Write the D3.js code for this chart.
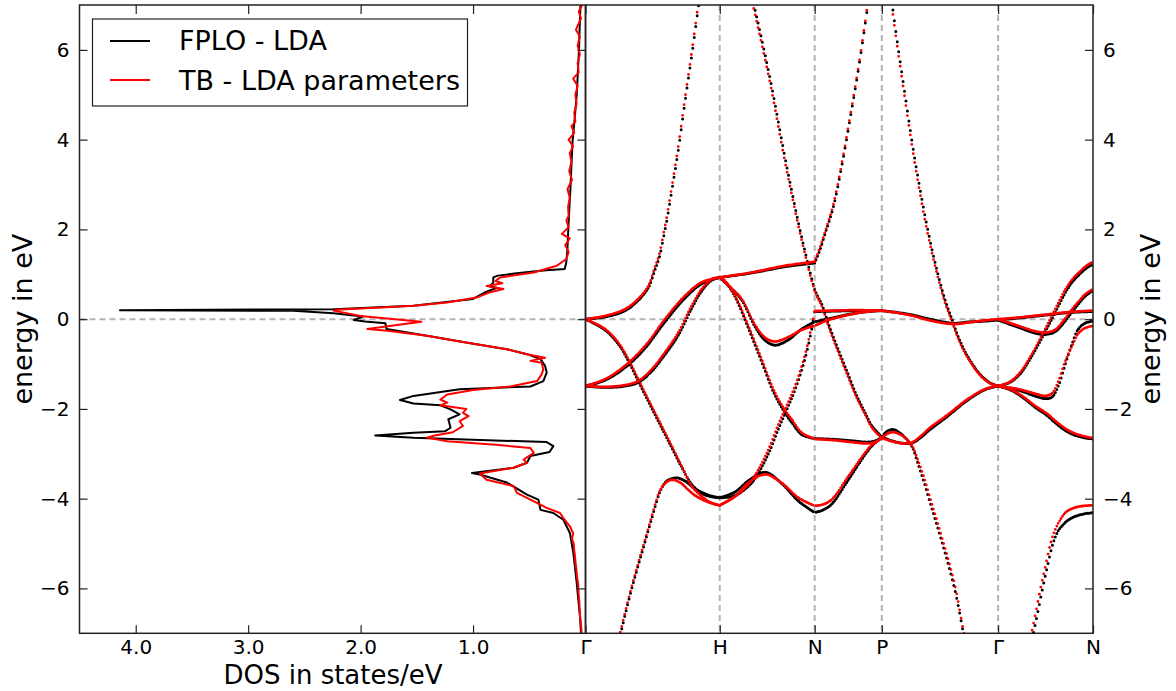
<!DOCTYPE html>
<html>
<head>
<meta charset="utf-8">
<script src="https://cdn.jsdelivr.net/npm/d3@7"></script>
<style>
  body { margin: 0; background: #fff; }
  text { font-family: "DejaVu Sans", sans-serif; }
</style>
</head>
<body>
<svg id="chart" width="1176" height="691"></svg>
<script>
// ---------- axis ticks and labels ----------
const energyTicks = [-6, -4, -2, 0, 2, 4, 6];
const dosTicks = [4, 3, 2, 1];
const kPoints = [0, 1, 1.7071, 2.2071, 3.0731, 3.7802];
const kLabels = ["Γ", "H", "N", "P", "Γ", "N"];
const seriesNames = ["FPLO - LDA", "TB - LDA parameters"];

// ---------- density of states: [energy eV, states/eV] ----------
const dosFPLO = [
  [7.0,0.045],[6.5,0.052],[6.0,0.058],[5.5,0.068],[5.0,0.078],[4.5,0.095],[4.0,0.114],
  [3.5,0.124],[3.0,0.132],[2.5,0.143],[2.0,0.153],[1.5,0.162],[1.25,0.172],[1.12,0.185],
  [1.09,0.35],[1.04,0.55],[0.97,0.78],[0.93,0.82],[0.82,0.82],[0.73,0.85],[0.70,0.79],
  [0.60,0.89],[0.45,1.0],[0.30,1.53],[0.22,2.24],[0.20,4.14],[0.185,2.6],[0.13,2.24],
  [0.06,1.98],[-0.02,2.06],[-0.05,1.96],[-0.09,1.78],[-0.22,1.77],[-0.37,1.41],[-0.56,0.97],
  [-0.67,0.70],[-0.78,0.52],[-0.89,0.40],[-1.04,0.36],[-1.19,0.345],[-1.38,0.375],[-1.50,0.49],
  [-1.56,1.12],[-1.71,1.53],[-1.80,1.65],[-1.88,1.53],[-1.92,1.29],[-2.01,1.20],[-2.12,1.12],
  [-2.23,1.22],[-2.42,1.20],[-2.50,1.25],[-2.53,1.53],[-2.59,1.87],[-2.64,1.53],[-2.74,0.345],
  [-2.83,0.286],[-2.96,0.32],[-3.05,0.49],[-3.20,0.52],[-3.31,0.64],[-3.43,1.01],[-3.46,0.94],
  [-3.64,0.70],[-3.91,0.52],[-4.02,0.42],[-4.25,0.40],[-4.32,0.286],[-4.47,0.197],[-4.77,0.138],
  [-5.21,0.108],[-5.88,0.078],[-6.63,0.049],[-7.0,0.04]
];
const dosTB = [
  [7.0,0.03],[6.85,0.06],[6.7,0.04],[6.45,0.085],[6.3,0.05],[6.1,0.07],[5.9,0.05],[5.7,0.07],
  [5.5,0.06],[5.36,0.11],[5.2,0.07],[5.0,0.09],[4.8,0.08],[4.6,0.10],[4.4,0.09],[4.3,0.125],
  [4.15,0.10],[4.0,0.15],[3.85,0.11],[3.7,0.14],[3.5,0.125],[3.3,0.145],[3.1,0.12],[2.9,0.16],
  [2.7,0.14],[2.5,0.155],[2.3,0.15],[2.2,0.17],[2.05,0.15],[1.9,0.21],[1.8,0.14],[1.65,0.18],
  [1.5,0.15],[1.34,0.17],[1.19,0.256],[1.04,0.46],[0.93,0.76],[0.85,0.80],[0.80,0.74],
  [0.74,0.88],[0.67,0.73],[0.60,0.85],[0.48,0.97],[0.37,1.23],[0.30,1.53],[0.21,2.21],
  [0.19,2.24],[0.07,2.0],[-0.06,1.46],[-0.22,1.94],[-0.26,1.76],[-0.37,1.41],[-0.50,1.12],
  [-0.56,0.97],[-0.67,0.70],[-0.78,0.52],[-0.86,0.36],[-0.93,0.49],[-0.97,0.39],[-1.12,0.375],
  [-1.23,0.39],[-1.38,0.43],[-1.50,0.67],[-1.58,1.0],[-1.68,1.23],[-1.79,1.29],[-1.86,1.23],
  [-1.92,1.29],[-2.0,1.06],[-2.09,1.09],[-2.16,1.04],[-2.27,1.12],[-2.38,1.09],[-2.52,1.18],
  [-2.60,1.35],[-2.64,1.41],[-2.72,1.23],[-2.80,0.80],[-2.87,0.49],[-2.98,0.46],[-3.13,0.55],
  [-3.20,0.52],[-3.31,0.64],[-3.44,0.94],[-3.58,0.88],[-3.72,0.64],[-3.87,0.61],[-4.02,0.49],
  [-4.2,0.35],[-4.32,0.227],[-4.42,0.20],[-4.55,0.16],[-4.62,0.138],[-4.77,0.11],[-4.9,0.12],
  [-5.0,0.105],[-5.15,0.10],[-5.29,0.093],[-5.45,0.088],[-5.6,0.08],[-5.75,0.075],[-5.9,0.065],
  [-6.1,0.062],[-6.3,0.055],[-6.45,0.052],[-6.6,0.049],[-6.8,0.04],[-7.0,0.034]
];

// ---------- band structure: [k along path, energy eV] ----------
// FPLO - LDA
const fGH_up = [[0,0],[0.145,0.05],[0.294,0.19],[0.393,0.42],[0.468,0.70],[0.515,1.08],[0.550,1.38],[0.585,1.88],[0.607,2.22],[0.654,3.07],[0.694,3.82],[0.734,4.69],[0.781,5.66],[0.803,6.12],[0.836,6.85],[0.868,7.5]];
const fGH_down = [[0,0],[0.145,-0.24],[0.244,-0.55],[0.319,-0.93],[0.393,-1.38],[0.468,-1.83],[0.542,-2.27],[0.617,-2.71],[0.717,-3.30],[0.791,-3.68],[0.866,-3.88],[0.927,-3.95],[1.0,-3.98]];
const fGH_s = [[0.25,-7.15],[0.298,-6.55],[0.348,-5.96],[0.397,-5.44],[0.447,-4.92],[0.497,-4.40],[0.528,-4.08],[0.558,-3.82],[0.600,-3.62],[0.647,-3.55],[0.691,-3.54],[0.749,-3.62],[0.816,-3.78],[0.915,-3.92],[1.0,-3.98]];
const fGH_a = [[0,-1.49],[0.145,-1.36],[0.294,-1.08],[0.443,-0.65],[0.592,-0.06],[0.741,0.47],[0.866,0.79],[1.0,0.93]];
const fGH_b = [[0,-1.49],[0.145,-1.52],[0.294,-1.49],[0.393,-1.41],[0.493,-1.16],[0.592,-0.79],[0.691,-0.36],[0.791,0.24],[0.866,0.63],[0.940,0.87],[1.0,0.93]];
const fHN_top = [[1.0,0.93],[1.238,1.03],[1.486,1.17],[1.7071,1.25]];
const fHN_dip = [[1.0,0.93],[1.076,0.71],[1.163,0.43],[1.263,-0.17],[1.337,-0.47],[1.412,-0.58],[1.511,-0.46],[1.610,-0.22],[1.7071,-0.06]];
const fHN_fall = [[1.0,0.93],[1.04,0.84],[1.114,0.50],[1.213,-0.20],[1.312,-0.95],[1.412,-1.70],[1.511,-2.20],[1.536,-2.30],[1.610,-2.57],[1.7071,-2.66]];
const fHN_rise = [[1.0,-3.98],[1.114,-3.93],[1.213,-3.72],[1.263,-3.55],[1.362,-3.00],[1.436,-2.45],[1.508,-1.95],[1.561,-1.57],[1.635,-0.88],[1.685,-0.22],[1.7071,0.17]];
const fHN_hump = [[1.0,-3.98],[1.114,-3.85],[1.213,-3.60],[1.337,-3.41],[1.461,-3.66],[1.585,-4.05],[1.7071,-4.31]];
const fHN_steep = [[1.228,7.4],[1.240,7.2],[1.285,6.6],[1.337,5.9],[1.389,5.15],[1.436,4.4],[1.486,3.6],[1.536,2.86],[1.585,2.16],[1.635,1.51],[1.685,0.9],[1.7071,0.66]];
const fNP_up = [[1.7071,1.25],[1.747,1.55],[1.784,1.9],[1.846,2.5],[1.908,3.4],[1.970,4.45],[2.032,5.55],[2.082,6.55],[2.119,7.35]];
const fNP_fall = [[1.7071,0.66],[1.734,0.48],[1.759,0.34],[1.809,-0.10],[1.883,-0.68],[1.958,-1.24],[2.015,-1.67],[2.082,-2.08],[2.134,-2.38],[2.2071,-2.62]];
const fNP_flat = [[1.7071,0.17],[1.85,0.18],[2.0,0.19],[2.2071,0.19]];
const fNP_rise0 = [[1.7071,-0.06],[1.858,0.04],[1.983,0.12],[2.104,0.17],[2.2071,0.19]];
const fNP_low = [[1.7071,-2.66],[1.858,-2.68],[1.983,-2.71],[2.104,-2.74],[2.16,-2.71],[2.2071,-2.63]];
const fNP_rise4 = [[1.7071,-4.31],[1.77,-4.25],[1.834,-4.12],[1.958,-3.58],[2.082,-3.02],[2.134,-2.82],[2.2071,-2.63]];
const fPG_steep = [[2.267,7.4],[2.305,6.55],[2.343,5.75],[2.380,5.0],[2.417,4.25],[2.454,3.55],[2.492,2.9],[2.529,2.3],[2.579,1.58],[2.628,0.97],[2.678,0.43],[2.732,-0.02],[2.775,-0.38],[2.839,-0.79],[2.939,-1.23],[3.013,-1.42],[3.0731,-1.49]];
const fPG_flat = [[2.2071,0.19],[2.343,0.14],[2.442,0.09],[2.566,0.0],[2.740,-0.09],[2.864,-0.06],[2.939,-0.05],[3.0731,-0.02]];
const fPG_hump = [[2.2071,-2.63],[2.244,-2.50],[2.293,-2.46],[2.343,-2.54],[2.387,-2.66],[2.432,-2.84],[2.477,-3.22],[2.529,-3.70],[2.566,-4.08],[2.611,-4.52],[2.663,-5.05],[2.715,-5.6],[2.760,-6.15],[2.812,-6.95],[2.834,-7.3]];
const fPG_cap = [[2.2071,-2.63],[2.305,-2.73],[2.380,-2.77],[2.432,-2.76],[2.492,-2.65],[2.566,-2.46],[2.690,-2.18],[2.839,-1.82],[2.976,-1.57],[3.0731,-1.49]];
const fGN_up = [[3.0731,-1.49],[3.160,-1.41],[3.237,-1.22],[3.311,-0.89],[3.410,-0.36],[3.473,0.0],[3.520,0.28],[3.572,0.58],[3.624,0.82],[3.683,1.01],[3.736,1.15],[3.7802,1.22]];
const fGN_cap = [[3.0731,-1.49],[3.160,-1.57],[3.237,-1.70],[3.348,-1.96],[3.435,-2.14],[3.520,-2.36],[3.609,-2.54],[3.698,-2.63],[3.7802,-2.67]];
const fGN_low = [[3.0731,-1.49],[3.224,-1.58],[3.348,-1.71],[3.423,-1.77],[3.473,-1.74],[3.520,-1.50],[3.572,-1.02],[3.624,-0.55],[3.671,-0.22],[3.721,-0.09],[3.7802,-0.04]];
const fGN_flat = [[3.0731,-0.02],[3.237,0.03],[3.423,0.09],[3.609,0.15],[3.7802,0.17]];
const fGN_dip = [[3.0731,-0.02],[3.224,-0.18],[3.348,-0.31],[3.423,-0.34],[3.497,-0.28],[3.557,-0.10],[3.624,0.16],[3.669,0.33],[3.721,0.51],[3.7802,0.64]];
const fGN_s = [[3.326,-7.2],[3.333,-7.05],[3.371,-6.5],[3.408,-5.95],[3.445,-5.45],[3.482,-5.0],[3.520,-4.72],[3.557,-4.58],[3.609,-4.45],[3.683,-4.36],[3.7802,-4.31]];

// TB - LDA parameters
const tGH_up = [[0,0],[0.145,0.07],[0.294,0.22],[0.393,0.45],[0.468,0.74],[0.515,1.14],[0.550,1.45],[0.585,1.96],[0.607,2.30],[0.654,3.15],[0.694,3.90],[0.734,4.77],[0.781,5.74],[0.803,6.20],[0.836,6.93],[0.868,7.6]];
const tGH_down = [[0,0],[0.145,-0.22],[0.244,-0.52],[0.319,-0.89],[0.393,-1.34],[0.468,-1.79],[0.542,-2.23],[0.617,-2.67],[0.717,-3.28],[0.791,-3.72],[0.866,-3.95],[0.927,-4.08],[1.0,-4.15]];
const tGH_s = [[0.245,-7.15],[0.294,-6.55],[0.344,-5.96],[0.393,-5.44],[0.443,-4.92],[0.493,-4.40],[0.525,-4.07],[0.555,-3.82],[0.600,-3.64],[0.647,-3.58],[0.704,-3.64],[0.764,-3.80],[0.816,-3.93],[0.915,-4.08],[1.0,-4.15]];
const tGH_a = [[0,-1.49],[0.145,-1.34],[0.294,-1.04],[0.443,-0.60],[0.592,0.0],[0.741,0.52],[0.866,0.82],[1.0,0.93]];
const tGH_b = [[0,-1.49],[0.145,-1.51],[0.294,-1.47],[0.393,-1.38],[0.493,-1.12],[0.592,-0.74],[0.691,-0.30],[0.791,0.30],[0.866,0.67],[0.940,0.89],[1.0,0.93]];
const tHN_top = [[1.0,0.93],[1.238,1.04],[1.486,1.19],[1.7071,1.28]];
const tHN_dip = [[1.0,0.93],[1.076,0.72],[1.163,0.45],[1.263,-0.13],[1.337,-0.41],[1.412,-0.50],[1.511,-0.40],[1.610,-0.24],[1.7071,-0.15]];
const tHN_fall = [[1.0,0.93],[1.04,0.85],[1.114,0.52],[1.213,-0.15],[1.312,-0.89],[1.412,-1.64],[1.511,-2.14],[1.536,-2.23],[1.610,-2.53],[1.7071,-2.67]];
const tHN_rise = [[1.0,-4.15],[1.114,-3.95],[1.213,-3.68],[1.263,-3.48],[1.362,-2.91],[1.436,-2.35],[1.508,-1.87],[1.561,-1.49],[1.635,-0.80],[1.685,-0.15],[1.7071,0.17]];
const tHN_hump = [[1.0,-4.15],[1.114,-3.95],[1.213,-3.65],[1.337,-3.46],[1.461,-3.65],[1.585,-3.98],[1.7071,-4.16]];
const tHN_steep = [[1.228,7.3],[1.240,7.1],[1.285,6.5],[1.337,5.8],[1.389,5.05],[1.436,4.3],[1.486,3.5],[1.536,2.78],[1.585,2.09],[1.635,1.45],[1.685,0.85],[1.7071,0.63]];
const tNP_up = [[1.7071,1.28],[1.747,1.6],[1.784,1.94],[1.846,2.55],[1.908,3.45],[1.970,4.5],[2.032,5.6],[2.082,6.6],[2.119,7.4]];
const tNP_fall = [[1.7071,0.63],[1.734,0.45],[1.759,0.30],[1.809,-0.15],[1.883,-0.74],[1.958,-1.30],[2.015,-1.72],[2.082,-2.12],[2.134,-2.42],[2.2071,-2.65]];
const tNP_flat = [[1.7071,0.18],[1.85,0.19],[2.0,0.20],[2.2071,0.19]];
const tNP_rise0 = [[1.7071,-0.15],[1.809,-0.02],[1.983,0.11],[2.104,0.17],[2.2071,0.19]];
const tNP_low = [[1.7071,-2.67],[1.858,-2.70],[1.983,-2.74],[2.104,-2.77],[2.16,-2.74],[2.2071,-2.65]];
const tNP_rise4 = [[1.7071,-4.16],[1.77,-4.13],[1.834,-4.02],[1.958,-3.50],[2.082,-2.98],[2.134,-2.80],[2.2071,-2.65]];
const tPG_steep = [[2.267,7.3],[2.305,6.45],[2.343,5.65],[2.380,4.9],[2.417,4.15],[2.454,3.45],[2.492,2.8],[2.529,2.2],[2.579,1.5],[2.628,0.9],[2.678,0.37],[2.732,-0.07],[2.775,-0.42],[2.839,-0.82],[2.939,-1.25],[3.013,-1.43],[3.0731,-1.49]];
const tPG_flat = [[2.2071,0.19],[2.343,0.13],[2.442,0.07],[2.566,-0.03],[2.740,-0.11],[2.864,-0.07],[2.939,-0.04],[3.0731,0.0]];
const tPG_hump = [[2.2071,-2.65],[2.252,-2.55],[2.293,-2.52],[2.343,-2.57],[2.387,-2.66],[2.432,-2.82],[2.477,-3.15],[2.529,-3.60],[2.566,-3.98],[2.611,-4.42],[2.663,-4.95],[2.715,-5.5],[2.760,-6.05],[2.812,-6.9],[2.834,-7.2]];
const tPG_cap = [[2.2071,-2.65],[2.305,-2.74],[2.380,-2.77],[2.432,-2.75],[2.492,-2.62],[2.566,-2.42],[2.690,-2.15],[2.839,-1.80],[2.976,-1.56],[3.0731,-1.49]];
const tGN_up = [[3.0731,-1.49],[3.160,-1.40],[3.237,-1.19],[3.311,-0.85],[3.410,-0.30],[3.473,0.07],[3.520,0.35],[3.572,0.65],[3.624,0.88],[3.683,1.06],[3.736,1.20],[3.7802,1.27]];
const tGN_cap = [[3.0731,-1.49],[3.160,-1.56],[3.237,-1.68],[3.348,-1.93],[3.435,-2.10],[3.520,-2.32],[3.609,-2.50],[3.698,-2.60],[3.7802,-2.65]];
const tGN_low = [[3.0731,-1.49],[3.224,-1.56],[3.348,-1.66],[3.423,-1.71],[3.473,-1.66],[3.520,-1.40],[3.572,-0.95],[3.624,-0.60],[3.671,-0.32],[3.721,-0.20],[3.7802,-0.15]];
const tGN_flat = [[3.0731,0.0],[3.237,0.04],[3.423,0.10],[3.609,0.16],[3.7802,0.19]];
const tGN_dip = [[3.0731,0.0],[3.224,-0.15],[3.348,-0.27],[3.423,-0.30],[3.497,-0.24],[3.557,-0.05],[3.624,0.22],[3.669,0.38],[3.721,0.55],[3.7802,0.67]];
const tGN_s = [[3.311,-7.2],[3.319,-7.05],[3.356,-6.5],[3.393,-5.95],[3.430,-5.45],[3.464,-5.0],[3.497,-4.7],[3.535,-4.48],[3.579,-4.3],[3.646,-4.2],[3.713,-4.16],[3.7802,-4.15]];

const fploBands = [fGH_up, fGH_down, fGH_s, fGH_a, fGH_b, fHN_top, fHN_dip, fHN_fall, fHN_rise, fHN_hump, fHN_steep,
  fNP_up, fNP_fall, fNP_flat, fNP_rise0, fNP_low, fNP_rise4, fPG_steep, fPG_flat, fPG_hump, fPG_cap,
  fGN_up, fGN_cap, fGN_low, fGN_flat, fGN_dip, fGN_s];
const tbBands = [tGH_up, tGH_down, tGH_s, tGH_a, tGH_b, tHN_top, tHN_dip, tHN_fall, tHN_rise, tHN_hump, tHN_steep,
  tNP_up, tNP_fall, tNP_flat, tNP_rise0, tNP_low, tNP_rise4, tPG_steep, tPG_flat, tPG_hump, tPG_cap,
  tGN_up, tGN_cap, tGN_low, tGN_flat, tGN_dip, tGN_s];

// ---------- layout ----------
const svg = d3.select("#chart");
const yTop = 5, yBottom = 633.3, xLeft = 79.5, xMid = 585.5, xRight = 1093;
const eScale = d3.scaleLinear().domain([-7, 7]).range([yBottom, yTop]);
const dosScale = d3.scaleLinear().domain([4.5, 0]).range([xLeft, xMid]);
const kScale = d3.scaleLinear().domain([0, 3.7802]).range([xMid, xRight]);
const colors = { fplo: "#000000", tb: "#ff0000" };
const gridColor = "#b4b4b4";

svg.append("rect").attr("width", 1176).attr("height", 691).attr("fill", "#fff");

const defs = svg.append("defs");
defs.append("clipPath").attr("id", "clip-dos").append("rect")
  .attr("x", xLeft).attr("y", yTop).attr("width", xMid - xLeft).attr("height", yBottom - yTop);
defs.append("clipPath").attr("id", "clip-bands").append("rect")
  .attr("x", xMid).attr("y", yTop).attr("width", xRight - xMid).attr("height", yBottom - yTop);

// Fermi level and high-symmetry guide lines
svg.append("line")
  .attr("x1", xLeft).attr("x2", xRight).attr("y1", eScale(0)).attr("y2", eScale(0))
  .attr("stroke", gridColor).attr("stroke-width", 2).attr("stroke-dasharray", "6,4");
svg.selectAll(".kline").data(kPoints.slice(1, 5)).join("line")
  .attr("class", "kline")
  .attr("x1", d => kScale(d)).attr("x2", d => kScale(d))
  .attr("y1", yTop).attr("y2", yBottom)
  .attr("stroke", gridColor).attr("stroke-width", 2).attr("stroke-dasharray", "6,4");

// ---------- DOS panel ----------
const dosLine = d3.line().x(d => dosScale(d[1])).y(d => eScale(d[0]));
const dosG = svg.append("g").attr("clip-path", "url(#clip-dos)");
[[dosFPLO, colors.fplo], [dosTB, colors.tb]].forEach(([data, c]) => {
  dosG.append("path").datum(data).attr("d", dosLine)
    .attr("fill", "none").attr("stroke", c).attr("stroke-width", 2)
    .attr("stroke-linejoin", "round");
});

// ---------- band panel: bands drawn as dots on a shared, even k mesh ----------
const bandLine = d3.line().x(d => kScale(d[0])).y(d => eScale(d[1]))
  .curve(d3.curveCatmullRom.alpha(0.5));
const bandG = svg.append("g").attr("clip-path", "url(#clip-bands)");
const meshStep = 1.45; // horizontal spacing of the k mesh, px

// dash pattern placing one round dot wherever the path crosses a mesh column
function meshDashes(node) {
  const L = node.getTotalLength();
  const x0 = node.getPointAtLength(0).x;
  let next = xMid + Math.ceil((x0 - xMid) / meshStep - 1e-6) * meshStep;
  const marks = [];
  let prev = node.getPointAtLength(0), prevL = 0;
  if (Math.abs(prev.x - next) < 1e-3) { marks.push(0); next += meshStep; }
  for (let l = 0.25; l <= L + 1e-6; l += 0.25) {
    const p = node.getPointAtLength(Math.min(l, L));
    while (p.x >= next) {
      const t = (next - prev.x) / Math.max(p.x - prev.x, 1e-9);
      marks.push(prevL + t * (l - prevL));
      next += meshStep;
    }
    prev = p; prevL = l;
  }
  if (!marks.length) return { dash: "0 " + (L + 20), offset: 0 };
  const arr = [];
  for (let i = 0; i < marks.length; i++) {
    arr.push(0, i + 1 < marks.length ? marks[i + 1] - marks[i] : L + 20);
  }
  return { dash: arr.map(v => v.toFixed(3)).join(" "), offset: -marks[0] };
}

function drawBands(bands, color, width) {
  bands.forEach(b => {
    const p = bandG.append("path").datum(b).attr("d", bandLine)
      .attr("fill", "none").attr("stroke", color).attr("stroke-width", width)
      .attr("stroke-linecap", "round");
    const m = meshDashes(p.node());
    p.attr("stroke-dasharray", m.dash).attr("stroke-dashoffset", m.offset);
  });
}
drawBands(fploBands, colors.fplo, 3.0);
drawBands(tbBands, colors.tb, 2.8);

// ---------- axes ----------
function styleAxis(g) {
  g.select(".domain").remove();
  g.selectAll(".tick line").attr("stroke", "#222").attr("stroke-width", 1.2);
  g.selectAll(".tick text").attr("fill", "#000");
  g.attr("font-size", 20).attr("font-family", "DejaVu Sans");
}
svg.append("g").attr("transform", `translate(${xLeft},0)`)
  .call(d3.axisLeft(eScale).tickValues(energyTicks).tickSize(-8).tickPadding(10)).call(styleAxis);
svg.append("g").attr("transform", `translate(${xMid},0)`)
  .call(d3.axisRight(eScale).tickValues(energyTicks).tickSize(-8).tickFormat("")).call(styleAxis);
svg.append("g").attr("transform", `translate(${xRight},0)`)
  .call(d3.axisRight(eScale).tickValues(energyTicks).tickSize(-8).tickPadding(10)).call(styleAxis);
svg.append("g").attr("transform", `translate(0,${yBottom})`)
  .call(d3.axisBottom(dosScale).tickValues(dosTicks).tickFormat(d3.format(".1f")).tickSize(-8).tickPadding(7)).call(styleAxis);
svg.append("g").attr("transform", `translate(0,${yTop})`)
  .call(d3.axisTop(dosScale).tickValues(dosTicks).tickFormat("").tickSize(-9)).call(styleAxis);
svg.append("g").attr("transform", `translate(0,${yBottom})`)
  .call(d3.axisBottom(kScale).tickValues(kPoints).tickFormat((d, i) => kLabels[i]).tickSize(-8).tickPadding(7)).call(styleAxis);
svg.append("g").attr("transform", `translate(0,${yTop})`)
  .call(d3.axisTop(kScale).tickValues(kPoints).tickFormat("").tickSize(-9)).call(styleAxis);

// panel frames
svg.append("rect").attr("x", xLeft).attr("y", yTop).attr("width", xMid - xLeft).attr("height", yBottom - yTop)
  .attr("fill", "none").attr("stroke", "#222").attr("stroke-width", 1.5);
svg.append("rect").attr("x", xMid).attr("y", yTop).attr("width", xRight - xMid).attr("height", yBottom - yTop)
  .attr("fill", "none").attr("stroke", "#222").attr("stroke-width", 1.5);

// axis titles
svg.append("text").attr("transform", `translate(32,${(yTop + yBottom) / 2}) rotate(-90)`)
  .attr("text-anchor", "middle").attr("font-size", 27).text("energy in eV");
svg.append("text").attr("transform", `translate(1160,${(yTop + yBottom) / 2}) rotate(-90)`)
  .attr("text-anchor", "middle").attr("font-size", 27).text("energy in eV");
svg.append("text").attr("x", 333).attr("y", 684)
  .attr("text-anchor", "middle").attr("font-size", 26).text("DOS in states/eV");

// ---------- legend ----------
const lg = svg.append("g");
lg.append("rect").attr("x", 92.5).attr("y", 19).attr("width", 375).attr("height", 87)
  .attr("fill", "#fff").attr("stroke", "#222").attr("stroke-width", 1.2);
[[colors.fplo, 41, 50], [colors.tb, 80, 90]].forEach(([c, ly, ty], i) => {
  lg.append("line").attr("x1", 110).attr("x2", 150).attr("y1", ly).attr("y2", ly)
    .attr("stroke", c).attr("stroke-width", 2);
  lg.append("text").attr("x", 179).attr("y", ty).attr("font-size", 27).text(seriesNames[i]);
});
</script>
</body>
</html>
